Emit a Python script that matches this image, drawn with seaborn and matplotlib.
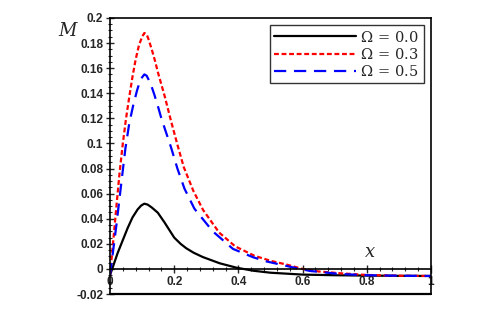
import numpy as np
import pandas as pd
import matplotlib
matplotlib.use("Agg")
import matplotlib.pyplot as plt
import seaborn as sns
from matplotlib.ticker import MultipleLocator, FormatStrFormatter

# values
x_black = [0.0, 0.024, 0.055, 0.07, 0.086, 0.097, 0.107, 0.117, 0.13, 0.149, 0.17, 0.19, 0.2, 0.22,
           0.2375, 0.26, 0.289, 0.342, 0.394, 0.446, 0.5, 0.6, 0.7, 0.8, 0.9, 1.0]
m_black = [-0.005, 0.0128, 0.0326, 0.041, 0.0474, 0.0505, 0.052, 0.0513, 0.049, 0.0448, 0.037, 0.029,
           0.025, 0.02, 0.0165, 0.013, 0.0095, 0.0045, 0.001, -0.0014, -0.003, -0.0045, -0.005,
           -0.0053, -0.0055, -0.0056]

x_red = [0.0, 0.01, 0.02, 0.03, 0.04, 0.05, 0.06, 0.07, 0.08, 0.09, 0.1, 0.107, 0.114, 0.12, 0.13,
         0.14, 0.15, 0.17, 0.19, 0.21, 0.23, 0.26, 0.29, 0.34, 0.39, 0.45, 0.5, 0.55, 0.6, 0.65,
         0.72, 0.8, 0.9, 1.0]
m_red = [-0.005, 0.022, 0.05, 0.077, 0.1, 0.12, 0.137, 0.153, 0.167, 0.178, 0.185, 0.188, 0.187,
         0.183, 0.175, 0.166, 0.156, 0.138, 0.118, 0.099, 0.081, 0.062, 0.047, 0.029, 0.018, 0.0105,
         0.0065, 0.0035, 0.0, -0.002, -0.0035, -0.0048, -0.0054, -0.0056]

x_blue = [0.0, 0.01, 0.02, 0.035, 0.048, 0.06, 0.072, 0.084, 0.095, 0.107, 0.114, 0.12, 0.13, 0.138,
          0.15, 0.16, 0.19, 0.21, 0.232, 0.263, 0.32, 0.383, 0.446, 0.4875, 0.56, 0.623, 0.716,
          0.8, 0.9, 1.0]
m_blue = [-0.005, 0.015, 0.035, 0.068, 0.096, 0.116, 0.13, 0.142, 0.151, 0.155, 0.154, 0.151, 0.145,
          0.139, 0.129, 0.12, 0.097, 0.08, 0.064, 0.048, 0.03, 0.016, 0.0093, 0.006, 0.0018,
          -0.0016, -0.004, -0.005, -0.0054, -0.0056]

legend_labels = ["$\\Omega\\,=\\,0.0$", "$\\Omega\\,=\\,0.3$", "$\\Omega\\,=\\,0.5$"]

sns.set_style("white")
plt.rcParams["font.family"] = ["Liberation Sans", "DejaVu Sans"]
plt.rcParams["mathtext.fontset"] = "dejavuserif"

fig = plt.figure(figsize=(4.88, 3.26), dpi=100)
ax = fig.add_axes([0.2254, 0.098, 0.6578, 0.847])

sns.lineplot(x=x_black, y=m_black, ax=ax, color="black", lw=1.6, label=legend_labels[0])
sns.lineplot(x=x_red, y=m_red, ax=ax, color="red", lw=1.6, label=legend_labels[1])
ax.lines[-1].set_dashes([2.2, 1.2])
sns.lineplot(x=x_blue, y=m_blue, ax=ax, color="blue", lw=1.6, label=legend_labels[2])
ax.lines[-1].set_dashes([5.5, 3.5])

ax.set_xlim(0, 1)
ax.set_ylim(-0.02, 0.2)

# x axis sits at y = 0, frame closed at the bottom
ax.spines["bottom"].set_position(("data", 0))
for s in ["left", "top", "right", "bottom"]:
    ax.spines[s].set_linewidth(1.2)
    ax.spines[s].set_color("black")
ax.axhline(-0.02, color="black", lw=1.6, clip_on=False)

ax.xaxis.set_major_locator(MultipleLocator(0.2))
ax.xaxis.set_minor_locator(MultipleLocator(0.04))
ax.yaxis.set_major_locator(MultipleLocator(0.02))
ax.yaxis.set_minor_locator(MultipleLocator(0.005))
ax.xaxis.set_major_formatter(FormatStrFormatter("%g"))
ax.yaxis.set_major_formatter(FormatStrFormatter("%g"))

ax.tick_params(axis="both", which="major", direction="inout", length=6, width=1,
               labelsize=8.5, pad=2, bottom=True, left=True)
ax.tick_params(axis="both", which="minor", direction="inout", length=3, width=0.8,
               bottom=True, left=True)
for lab in ax.get_xticklabels() + ax.get_yticklabels():
    lab.set_fontweight("bold")

ax.set_xlabel("")
ax.set_ylabel("")
fig.text(0.14, 0.905, "$M$", fontsize=13, ha="center", va="center")
ax.text(0.81, 0.013, "$x$", fontsize=13, ha="center", va="center")

leg = ax.legend(loc="upper right", fontsize=10.5, frameon=True, fancybox=False,
                edgecolor="black", handlelength=5.6, handletextpad=0.3,
                borderpad=0.3, labelspacing=0.15, borderaxespad=0.5)
leg.get_frame().set_linewidth(1.0)

fig.savefig("out.png", dpi=100)
